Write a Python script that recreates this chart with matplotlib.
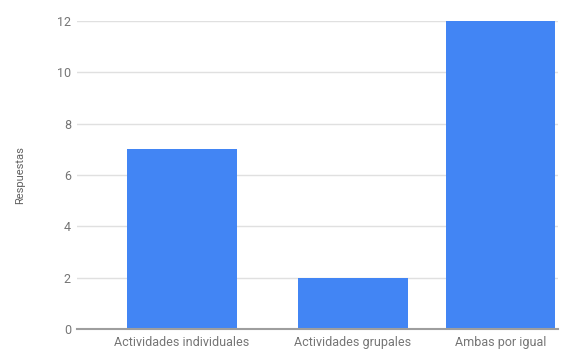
import matplotlib
matplotlib.use("Agg")
import matplotlib.pyplot as plt

categories = ["Actividades individuales", "Actividades grupales", "Ambas por igual"]
values = [7, 2, 12]
yticks = [0, 2, 4, 6, 8, 10, 12]

positions = [0, 1, 1.868]

plt.rcParams['font.family'] = ['Roboto', 'DejaVu Sans']
fig = plt.figure(figsize=(5.63, 3.52), dpi=100)
ax = fig.add_axes([0.137, 0.0653, 0.854, 0.875])
ax.bar(positions, values, width=0.645, color="#4285F4", zorder=3)
ax.set_xlim(-0.616, 2.205)
ax.set_ylim(0, 12)
ax.set_yticks(yticks)
ax.set_yticklabels([str(t) for t in yticks])
ax.set_xticks(positions)
ax.set_xticklabels(categories)
ax.grid(axis='y', color="#e0e0e0", linewidth=1, zorder=0)
for s in ["top", "right", "left"]:
    ax.spines[s].set_visible(False)
ax.spines["bottom"].set_color("#9e9e9e")
ax.spines["bottom"].set_linewidth(1.5)
ax.spines["bottom"].set_zorder(4)
ax.tick_params(axis='both', length=0, colors="#757575", labelsize=9)
ax.tick_params(axis='y', pad=4.5)
ax.tick_params(axis='x', pad=5)
ax.set_ylabel("Respuestas", color="#616161", fontsize=8, labelpad=23)
fig.savefig("out.png", dpi=100)
